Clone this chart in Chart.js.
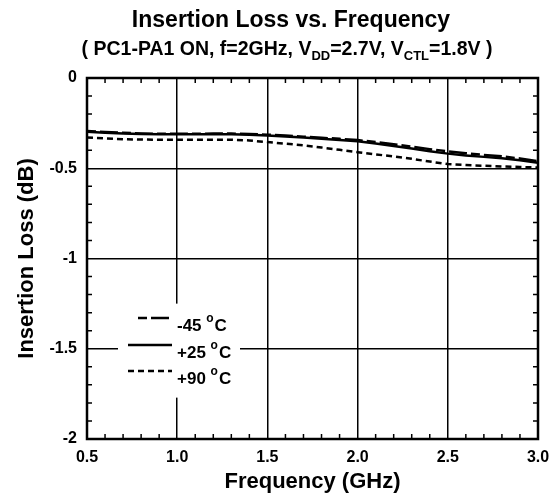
<!DOCTYPE html>
<html>
<head>
<meta charset="utf-8">
<script src="https://cdn.jsdelivr.net/npm/chart.js@4.4.0/dist/chart.umd.min.js"></script>
<style>
  body { margin: 0; background: #fff; }
  #wrap { width: 560px; height: 499px; }
</style>
</head>
<body>
<div id="wrap"><canvas id="chartIL" width="560" height="499"></canvas></div>
<script>
  // frequency in GHz
  var freq = [0.5, 0.6, 0.7, 0.8, 0.9, 1.0, 1.1, 1.2, 1.3, 1.4, 1.5, 1.6, 1.7,
              1.8, 1.9, 2.0, 2.1, 2.2, 2.3, 2.4, 2.5, 2.6, 2.7, 2.8, 2.9, 3.0];

  // insertion loss in dB
  var lossM45 = [-0.293, -0.299, -0.304, -0.307, -0.309, -0.309, -0.309, -0.308, -0.308,
                 -0.310, -0.314, -0.319, -0.325, -0.331, -0.337, -0.344, -0.355, -0.367,
                 -0.381, -0.394, -0.406, -0.417, -0.426, -0.434, -0.446, -0.461];
  var lossP25 = [-0.298, -0.303, -0.307, -0.310, -0.312, -0.312, -0.312, -0.312, -0.312,
                 -0.314, -0.318, -0.324, -0.329, -0.336, -0.343, -0.351, -0.363, -0.377,
                 -0.391, -0.406, -0.419, -0.429, -0.437, -0.445, -0.456, -0.469];
  var lossP90 = [-0.330, -0.335, -0.339, -0.341, -0.342, -0.342, -0.342, -0.342, -0.342,
                 -0.346, -0.355, -0.364, -0.373, -0.385, -0.398, -0.411, -0.423, -0.435,
                 -0.448, -0.463, -0.477, -0.482, -0.486, -0.490, -0.493, -0.496];

  var seriesNames = ["-45 ", "+25 ", "+90 "];
  var xTickLabels = ["0.5", "1.0", "1.5", "2.0", "2.5", "3.0"];
  var yTickLabels = ["-2", "-1.5", "-1", "-0.5", "0"];

  var FONT = "'Liberation Sans', Arial, sans-serif";
  var dashes = [[9, 4, 18, 4], [], [6, 4]];

  function pts(ys) {
    return freq.map(function (f, i) { return { x: f, y: ys[i] }; });
  }

  function drawRich(ctx, parts, cx, base) {
    var total = 0;
    parts.forEach(function (p) {
      ctx.font = "bold " + p.size + "px " + FONT;
      p.w = ctx.measureText(p.t).width;
      total += p.w;
    });
    var x = cx - total / 2;
    parts.forEach(function (p) {
      ctx.font = "bold " + p.size + "px " + FONT;
      ctx.fillText(p.t, x, base + (p.dy || 0));
      x += p.w;
    });
  }

  var decorPlugin = {
    id: "decor",
    afterDraw: function (chart) {
      var ctx = chart.ctx;
      var a = chart.chartArea;
      var xs = chart.scales.x, ys = chart.scales.y;
      ctx.save();
      ctx.fillStyle = "#000";
      ctx.textAlign = "left";
      ctx.textBaseline = "alphabetic";

      // titles
      drawRich(ctx, [{ t: "Insertion Loss vs. Frequency", size: 23 }], 291, 27);
      drawRich(ctx, [
        { t: "( PC1-PA1 ON, f=2GHz, V", size: 19.5 },
        { t: "DD", size: 13, dy: 5 },
        { t: "=2.7V, V", size: 19.5 },
        { t: "CTL", size: 13, dy: 5 },
        { t: "=1.8V )", size: 19.5 }
      ], 287, 55);

      // minor ticks on all four sides
      ctx.strokeStyle = "#000";
      ctx.lineWidth = 1.5;
      ctx.beginPath();
      var i, v, p;
      for (i = 1; i < 25; i++) {
        if (i % 5 === 0) continue;
        v = 0.5 + i * 0.1;
        p = xs.getPixelForValue(v);
        ctx.moveTo(p, a.bottom); ctx.lineTo(p, a.bottom - 5);
        ctx.moveTo(p, a.top); ctx.lineTo(p, a.top + 5);
      }
      for (i = 1; i < 20; i++) {
        if (i % 5 === 0) continue;
        v = -2 + i * 0.1;
        p = ys.getPixelForValue(v);
        ctx.moveTo(a.left, p); ctx.lineTo(a.left + 5, p);
        ctx.moveTo(a.right, p); ctx.lineTo(a.right - 5, p);
      }
      ctx.stroke();

      // legend
      var lx = xs.getPixelForValue(0.5);
      var lgTop = ys.getPixelForValue(-1.25);
      ctx.fillStyle = "#fff";
      ctx.fillRect(lx + 31, lgTop, 122, 94);
      ctx.fillStyle = "#000";
      var rowY = [318, 345, 371];
      var lineX0 = [138, 128, 128];
      chart.data.datasets.forEach(function (ds, k) {
        ctx.setLineDash(ds.borderDash || []);
        ctx.lineWidth = 2.5;
        ctx.beginPath();
        ctx.moveTo(lineX0[k], rowY[k]);
        ctx.lineTo(172, rowY[k]);
        ctx.stroke();
        ctx.setLineDash([]);
        ctx.font = "bold 17px " + FONT;
        ctx.fillText(seriesNames[k], 177, rowY[k] + 13);
        var w = ctx.measureText(seriesNames[k]).width;
        ctx.font = "bold 12px " + FONT;
        ctx.fillText("o", 177 + w, rowY[k] + 4);
        var w2 = ctx.measureText("o").width;
        ctx.font = "bold 17px " + FONT;
        ctx.fillText("C", 177 + w + w2 + 1, rowY[k] + 13);
      });

      // frame
      ctx.lineWidth = 2.5;
      ctx.strokeRect(a.left, a.top, a.right - a.left, a.bottom - a.top);
      ctx.restore();
    }
  };

  var ctx = document.getElementById("chartIL").getContext("2d");
  var chart = new Chart(ctx, {
    type: "line",
    data: {
      datasets: [
        { label: seriesNames[0], data: pts(lossM45), borderColor: "#000", borderWidth: 2.5,
          borderDash: dashes[0], pointRadius: 0, tension: 0, fill: false },
        { label: seriesNames[1], data: pts(lossP25), borderColor: "#000", borderWidth: 2.5,
          borderDash: dashes[1], pointRadius: 0, tension: 0, fill: false },
        { label: seriesNames[2], data: pts(lossP90), borderColor: "#000", borderWidth: 2.5,
          borderDash: dashes[2], pointRadius: 0, tension: 0, fill: false }
      ]
    },
    options: {
      responsive: false,
      animation: false,
      devicePixelRatio: 1,
      layout: { padding: { top: 78, right: 22, bottom: 0, left: 0 } },
      plugins: { legend: { display: false }, tooltip: { enabled: false } },
      scales: {
        x: {
          type: "linear", min: 0.5, max: 3.0,
          afterFit: function (s) { s.height = 60; },
          grid: { color: "#000", lineWidth: 1.5, drawTicks: false },
          border: { display: false },
          ticks: {
            stepSize: 0.5, padding: 9, color: "#000",
            font: { family: FONT, size: 16, weight: "bold" },
            callback: function (v) {
              var k = Math.round((v - 0.5) / 0.5);
              return xTickLabels[k];
            }
          },
          title: {
            display: true, text: "Frequency (GHz)", color: "#000",
            font: { family: FONT, size: 22, weight: "bold" },
            padding: { bottom: 4 }
          }
        },
        y: {
          type: "linear", min: -2, max: 0,
          afterFit: function (s) { s.width = 87; },
          grid: { color: "#000", lineWidth: 1.5, drawTicks: false },
          border: { display: false },
          ticks: {
            stepSize: 0.5, padding: 10, color: "#000",
            font: { family: FONT, size: 16, weight: "bold" },
            callback: function (v) {
              var k = Math.round((v + 2) / 0.5);
              return yTickLabels[k];
            }
          },
          title: {
            display: true, text: "Insertion Loss (dB)", color: "#000",
            font: { family: FONT, size: 22, weight: "bold" },
            padding: { top: 14 }
          }
        }
      }
    },
    plugins: [decorPlugin]
  });
</script>
</body>
</html>
